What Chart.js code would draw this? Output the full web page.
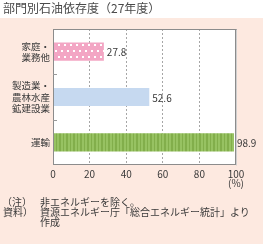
<!DOCTYPE html>
<html>
<head>
<meta charset="utf-8">
<script src="https://cdn.jsdelivr.net/npm/chart.js@4.4.1/dist/chart.umd.min.js"></script>
<style>
  html, body { margin: 0; padding: 0; background: #fff; }
  #wrap { position: relative; width: 267px; height: 244px; overflow: hidden; font-family: "Noto Sans CJK JP", sans-serif; color: #3a3a3a; }
  #chart { position: absolute; left: 0; top: 0; }
  .txt { position: absolute; white-space: nowrap; line-height: 1; }
  #title { left: 3px; top: 2px; font-size: 12px; color: #4a4a4a; }
  #unit { left: 228px; top: 178px; font-size: 10px; }
  .note { font-size: 10px; }
</style>
</head>
<body>
<div id="wrap">
  <canvas id="chart" width="267" height="244"></canvas>
  <div class="txt" id="title">部門別石油依存度（27年度）</div>
  <div class="txt" id="unit">(%)</div>
  <div class="txt note" style="left:2px; top:197px;">（注）</div>
  <div class="txt note" style="left:40px; top:197px;">非エネルギーを除く。</div>
  <div class="txt note" style="left:3px; top:207px;">資料）</div>
  <div class="txt note" style="left:40px; top:207px;">資源エネルギー庁「総合エネルギー統計」より</div>
  <div class="txt note" style="left:40px; top:217px;">作成</div>
</div>
<script>
  "use strict";

  // ___________ data ___________ //
  const categories = [["家庭・", "業務他"], ["製造業・", "農林水産", "鉱建設業"], "運輸"];
  const dependence = [27.8, 52.6, 98.9];
  const xTicks = [0, 20, 40, 60, 80, 100];

  // ___________ bar fills ___________ //
  function dotPattern() {
    const c = document.createElement("canvas");
    c.width = 6; c.height = 12;
    const g = c.getContext("2d");
    g.fillStyle = "#f3a6c4";
    g.fillRect(0, 0, 6, 12);
    g.fillStyle = "#ffffff";
    g.fillRect(1, 2, 2, 2);
    g.fillRect(4, 8, 2, 2);
    return g.createPattern(c, "repeat");
  }
  function stripePattern() {
    const c = document.createElement("canvas");
    c.width = 7; c.height = 4;
    const g = c.getContext("2d");
    g.fillStyle = "#97c262";
    g.fillRect(0, 0, 7, 4);
    g.fillStyle = "#82ae4b";
    g.fillRect(0, 0, 1, 4);
    g.fillRect(3, 0, 2, 4);
    return g.createPattern(c, "repeat");
  }

  const PANEL_TOP = 18;

  // background panel + white plot area + frame
  const panelPlugin = {
    id: "panel",
    beforeDraw(chart) {
      const ctx = chart.ctx;
      const a = chart.chartArea;
      ctx.save();
      ctx.fillStyle = "#fde9e0";
      ctx.fillRect(0, PANEL_TOP, 263, chart.height - PANEL_TOP);
      ctx.fillStyle = "#ffffff";
      ctx.fillRect(a.left, a.top, a.right - a.left, a.bottom - a.top);
      ctx.restore();
    },
    afterDraw(chart) {
      const ctx = chart.ctx;
      const a = chart.chartArea;
      const ys = chart.scales.y;
      ctx.save();
      ctx.strokeStyle = "#cfcfcf";
      ctx.lineWidth = 1;
      ctx.beginPath();
      ctx.moveTo(a.right + 0.5, a.top + 1);
      ctx.lineTo(a.right + 0.5, a.bottom + 0.5);
      ctx.stroke();
      ctx.strokeStyle = "#8c8c8c";
      ctx.strokeRect(a.left + 0.5, a.top + 0.5, a.right - a.left - 1, a.bottom - a.top - 1);
      // small category ticks inside the left edge
      ctx.strokeStyle = "#999";
      for (let i = 1; i < dependence.length; i++) {
        const y = Math.round((ys.getPixelForValue(i - 1) + ys.getPixelForValue(i)) / 2) + 0.5;
        ctx.beginPath();
        ctx.moveTo(a.left, y);
        ctx.lineTo(a.left + 4, y);
        ctx.stroke();
      }
      ctx.restore();
    },
  };

  // value labels at the bar ends
  const valuePlugin = {
    id: "values",
    afterDatasetsDraw(chart) {
      const ctx = chart.ctx;
      const meta = chart.getDatasetMeta(0);
      ctx.save();
      ctx.font = '10px "Noto Sans CJK JP"';
      ctx.fillStyle = "#3a3a3a";
      ctx.textBaseline = "middle";
      meta.data.forEach(function (bar, i) {
        ctx.fillText(dependence[i].toFixed(1), bar.x + 3, bar.y + 1);
      });
      ctx.restore();
    },
  };

  const ctx = document.getElementById("chart").getContext("2d");
  const myChart = new Chart(ctx, {
    type: "bar",
    data: {
      labels: categories,
      datasets: [
        {
          data: dependence,
          backgroundColor: [dotPattern(), "#c6d9f0", stripePattern()],
          borderWidth: 0,
          barPercentage: 0.4,
          categoryPercentage: 1,
        },
      ],
    },
    options: {
      indexAxis: "y",
      responsive: false,
      animation: false,
      events: [],
      layout: { padding: { left: 0, right: 31, top: 29, bottom: 0 } },
      plugins: { legend: { display: false }, tooltip: { enabled: false } },
      scales: {
        x: {
          min: 0,
          max: 100,
          afterBuildTicks(scale) {
            scale.ticks = xTicks.map(function (v) { return { value: v }; });
          },
          afterFit(scale) { scale.height = 79; },
          grid: {
            color: "#a6a6a6",
            lineWidth: 1,
            drawTicks: false,
          },
          border: { display: false, dash: [2, 2] },
          ticks: {
            padding: 3,
            color: "#3a3a3a",
            font: { family: "Noto Sans CJK JP", size: 10 },
          },
        },
        y: {
          afterFit(scale) { scale.width = 53; },
          border: { display: false },
          grid: { display: false, drawTicks: false },
          ticks: {
            padding: 3,
            color: "#3a3a3a",
            font: { family: "Noto Sans CJK JP", size: 9.5, lineHeight: 1.18 },
          },
        },
      },
    },
    plugins: [panelPlugin, valuePlugin],
  });
</script>
</body>
</html>
